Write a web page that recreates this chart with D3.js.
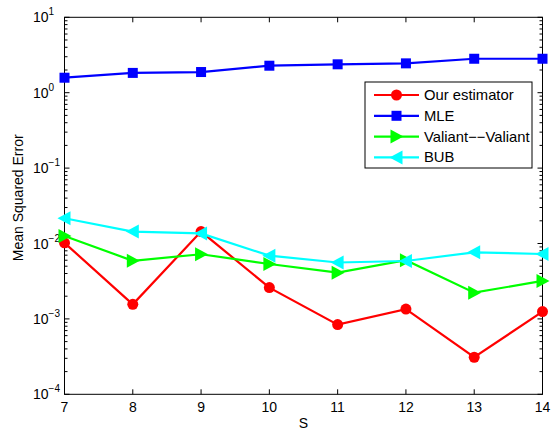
<!DOCTYPE html>
<html><head><meta charset="utf-8">
<script src="https://cdn.jsdelivr.net/npm/d3@7"></script>
<style>body{margin:0;background:#fff}svg{display:block}text{font-family:"Liberation Sans",Arial,sans-serif}</style>
</head><body><svg id="c" width="552" height="430"></svg>
<script>
const S = [7, 8, 9, 10, 11, 12, 13, 14];
const ourEstimator = [0.0102, 0.00156, 0.0144, 0.0026, 0.00084, 0.00135, 0.00031, 0.00125];
const mle = [1.58, 1.83, 1.88, 2.28, 2.38, 2.45, 2.82, 2.82];
const valiant = [0.0126, 0.0059, 0.0072, 0.00535, 0.0041, 0.0060, 0.00223, 0.00319];
const bub = [0.0216, 0.0144, 0.0136, 0.0069, 0.0056, 0.00586, 0.00764, 0.00726];
const yTicks = [1e-4, 1e-3, 1e-2, 1e-1, 1e0, 1e1];
const seriesNames = ["Our estimator", "MLE", "Valiant\u2212\u2212Valiant", "BUB"];
const seriesColors = ["#ff0000", "#0000ff", "#00ff00", "#00ffff"];
const seriesMarkers = ["circle", "square", "tri-right", "tri-left"];
const seriesData = [ourEstimator, mle, valiant, bub];

const svg = d3.select("#c");
const L = 64.5, R = 542.5, T = 17.3, B = 394.3;
const FS = 14;
const x = d3.scaleLinear().domain([7, 14]).range([L, R]);
const y = d3.scaleLog().domain([1e-4, 1e1]).range([B, T]);

// minor ticks
const minor = [];
for (let e = -4; e < 1; e++) for (let m = 2; m <= 9; m++) minor.push(m * Math.pow(10, e));
const g = svg.append("g");
minor.forEach(v => {
  g.append("line").attr("x1", L).attr("x2", L + 3).attr("y1", y(v)).attr("y2", y(v)).attr("stroke", "#000").attr("stroke-width", 1);
  g.append("line").attr("x1", R).attr("x2", R - 3).attr("y1", y(v)).attr("y2", y(v)).attr("stroke", "#000").attr("stroke-width", 1);
});
yTicks.forEach(v => {
  const ex = Math.round(Math.log10(v));
  g.append("line").attr("x1", L).attr("x2", L + 5).attr("y1", y(v)).attr("y2", y(v)).attr("stroke", "#000");
  g.append("line").attr("x1", R).attr("x2", R - 5).attr("y1", y(v)).attr("y2", y(v)).attr("stroke", "#000");
  const t = g.append("text").attr("x", 33).attr("y", y(v) + 5).attr("text-anchor", "start").attr("font-size", FS);
  t.append("tspan").text("10");
  t.append("tspan").attr("dy", -7).attr("font-size", 10).text(ex < 0 ? "\u2212" + Math.abs(ex) : ex);
});
S.forEach(v => {
  g.append("line").attr("x1", x(v)).attr("x2", x(v)).attr("y1", B).attr("y2", B - 5).attr("stroke", "#000");
  g.append("line").attr("x1", x(v)).attr("x2", x(v)).attr("y1", T).attr("y2", T + 5).attr("stroke", "#000");
  g.append("text").attr("x", x(v)).attr("y", B + 18).attr("text-anchor", "middle").attr("font-size", FS).text(v);
});
g.append("rect").attr("x", L).attr("y", T).attr("width", R - L).attr("height", B - T).attr("fill", "none").attr("stroke", "#000").attr("stroke-width", 1);

svg.append("text").attr("x", (L + R) / 2).attr("y", 428).attr("text-anchor", "middle").attr("font-size", FS).text("S");
svg.append("text").attr("transform", `translate(23,${(T + B) / 2 - 8}) rotate(-90)`).attr("text-anchor", "middle").attr("font-size", FS).text("Mean Squared Error");

function marker(sel, type, cx, cy, color) {
  if (type === "circle") sel.append("circle").attr("cx", cx).attr("cy", cy).attr("r", 5.5).attr("fill", color);
  else if (type === "square") sel.append("rect").attr("x", cx - 5).attr("y", cy - 5).attr("width", 10).attr("height", 10).attr("fill", color);
  else if (type === "tri-right") sel.append("path").attr("d", `M${cx + 7},${cy} L${cx - 6},${cy - 7} L${cx - 6},${cy + 7} Z`).attr("fill", color);
  else sel.append("path").attr("d", `M${cx - 7},${cy} L${cx + 6},${cy - 7} L${cx + 6},${cy + 7} Z`).attr("fill", color);
}
const line = d3.line().x(d => x(d[0])).y(d => y(d[1]));
[0, 1, 2, 3].forEach(i => {
  const pts = S.map((s, j) => [s, seriesData[i][j]]);
  const gs = svg.append("g");
  gs.append("path").attr("d", line(pts)).attr("fill", "none").attr("stroke", seriesColors[i]).attr("stroke-width", 2.2);
  pts.forEach(p => marker(gs, seriesMarkers[i], x(p[0]), y(p[1]), seriesColors[i]));
});

// legend
const lx = 365, ly = 82, lw = 167, lh = 86;
const lg = svg.append("g");
lg.append("rect").attr("x", lx).attr("y", ly).attr("width", lw).attr("height", lh).attr("fill", "#fff").attr("stroke", "#000");
seriesNames.forEach((n, i) => {
  const cy = 95 + i * 20.8;
  lg.append("line").attr("x1", 374).attr("x2", 419).attr("y1", cy).attr("y2", cy).attr("stroke", seriesColors[i]).attr("stroke-width", 2.2);
  marker(lg, seriesMarkers[i], 396.5, cy, seriesColors[i]);
  lg.append("text").attr("x", 424).attr("y", cy + 5).attr("font-size", 14.8).text(n);
});
</script></body></html>
